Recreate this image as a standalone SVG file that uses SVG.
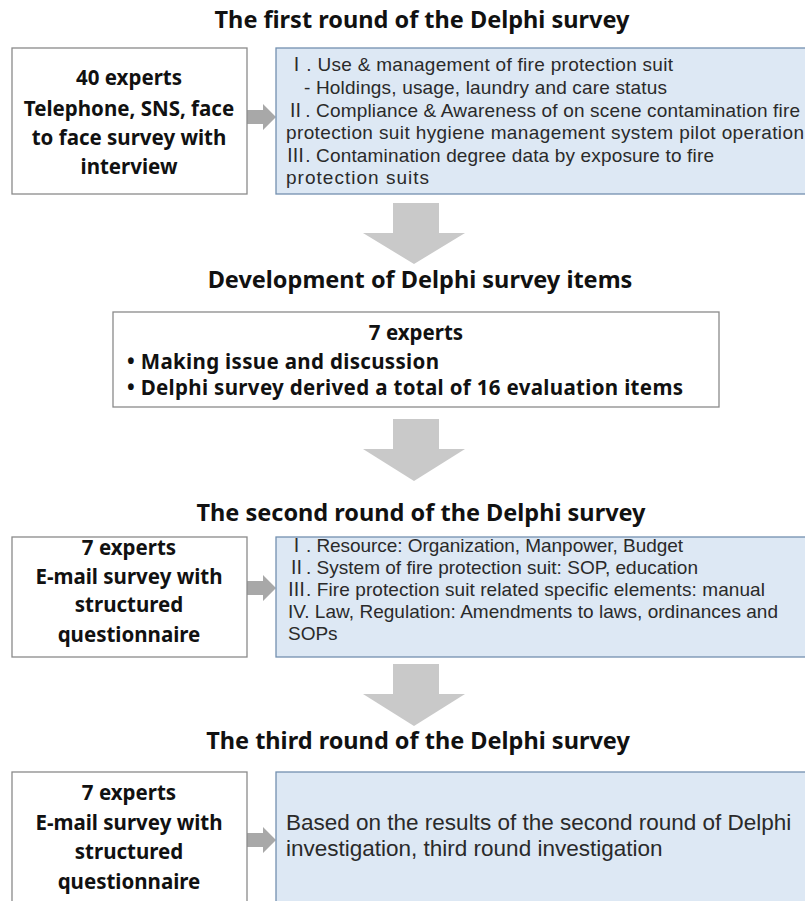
<svg xmlns="http://www.w3.org/2000/svg" width="805" height="901" viewBox="0 0 805 901">
<style>
.t{font-family:"Noto Sans","Noto Sans CJK KR",sans-serif;font-weight:bold;font-size:23.5px;fill:#111;text-anchor:middle}
.b{font-family:"Noto Sans","Noto Sans CJK KR",sans-serif;font-weight:bold;font-size:20.5px;fill:#111;text-anchor:middle}
.bl{font-family:"Noto Sans","Noto Sans CJK KR",sans-serif;font-weight:bold;font-size:20.5px;fill:#111}
.r{font-family:"Liberation Sans","Noto Sans CJK KR",sans-serif;font-size:19px;fill:#2a2a2a}
.r2{font-family:"Liberation Sans","Noto Sans CJK KR",sans-serif;font-size:22.5px;fill:#2a2a2a}
.wb{fill:#fff;stroke:#8a8a8a;stroke-width:1.3}
.bb{fill:#dde8f4;stroke:#7390b0;stroke-width:1.3}
.da{fill:#c9c9c9}
.sa{fill:#a8a8a8}
</style>
<rect width="805" height="901" fill="#fff"/>
<g id="titles">
<text class="t" x="422" y="28">The first round of the Delphi survey</text>
<text class="t" x="420" y="288">Development of Delphi survey items</text>
<text class="t" x="421" y="521">The second round of the Delphi survey</text>
<text class="t" x="418" y="749">The third round of the Delphi survey</text>
</g>
<g id="connectors">
<path class="sa" d="M247,110 H263 V104 L276,117 L263,130 V124 H247 Z"/>
<path class="sa" d="M247,581 H263 V575 L276,588 L263,601 V595 H247 Z"/>
<path class="sa" d="M247,833 H263 V827 L276,840 L263,853 V847 H247 Z"/>
<path class="da" d="M393,203 H439 V233 H465 L414,264 L363,233 H393 Z"/>
<path class="da" d="M393,419 H439 V449 H465 L414,481 L363,449 H393 Z"/>
<path class="da" d="M393,664 H439 V694 H465 L414,726 L363,694 H393 Z"/>
</g>
<g id="r1-left">
<rect class="wb" x="12" y="48" width="235" height="146"/>
<text class="b" x="129" y="85">40 experts</text>
<text class="b" x="129" y="116">Telephone, SNS, face</text>
<text class="b" x="129" y="145">to face survey with</text>
<text class="b" x="129" y="174">interview</text>
</g>
<g id="r1-right">
<rect class="bb" x="276" y="48" width="540" height="146"/>
<text class="r" x="287" y="71" textLength="386">Ⅰ. Use &amp; management of fire protection suit</text>
<text class="r" x="304" y="94" textLength="363">- Holdings, usage, laundry and care status</text>
<text class="r" x="286" y="117" textLength="514">Ⅱ. Compliance &amp; Awareness of on scene contamination fire</text>
<text class="r" x="286" y="139" textLength="518">protection suit hygiene management system pilot operation</text>
<text class="r" x="286" y="162" textLength="428">Ⅲ. Contamination degree data by exposure to fire</text>
<text class="r" x="286" y="184" textLength="143">protection suits</text>
</g>
<g id="dev">
<rect class="wb" x="113" y="312" width="606" height="95"/>
<text class="b" x="416" y="340">7 experts</text>
<text class="bl" x="127" y="369" textLength="312">• Making issue and discussion</text>
<text class="bl" x="127" y="395" textLength="556">• Delphi survey derived a total of 16 evaluation items</text>
</g>
<g id="r2-left">
<rect class="wb" x="12" y="537" width="235" height="120"/>
<text class="b" x="129" y="555">7 experts</text>
<text class="b" x="129" y="584">E-mail survey with</text>
<text class="b" x="129" y="612">structured</text>
<text class="b" x="129" y="642">questionnaire</text>
</g>
<g id="r2-right">
<rect class="bb" x="276" y="537" width="540" height="120"/>
<text class="r" x="287" y="552" textLength="396">Ⅰ. Resource: Organization, Manpower, Budget</text>
<text class="r" x="287" y="574" textLength="411">Ⅱ. System of fire protection suit: SOP, education</text>
<text class="r" x="287" y="596" textLength="478">Ⅲ. Fire protection suit related specific elements: manual</text>
<text class="r" x="288" y="618" textLength="490">IV. Law, Regulation: Amendments to laws, ordinances and</text>
<text class="r" x="288" y="640">SOPs</text>
</g>
<g id="r3-left">
<rect class="wb" x="12" y="772" width="235" height="140"/>
<text class="b" x="129" y="800">7 experts</text>
<text class="b" x="129" y="830">E-mail survey with</text>
<text class="b" x="129" y="859">structured</text>
<text class="b" x="129" y="889">questionnaire</text>
</g>
<g id="r3-right">
<rect class="bb" x="276" y="772" width="540" height="140"/>
<text class="r2" x="286" y="830">Based on the results of the second round of Delphi</text>
<text class="r2" x="286" y="856">investigation, third round investigation</text>
</g>
</svg>
